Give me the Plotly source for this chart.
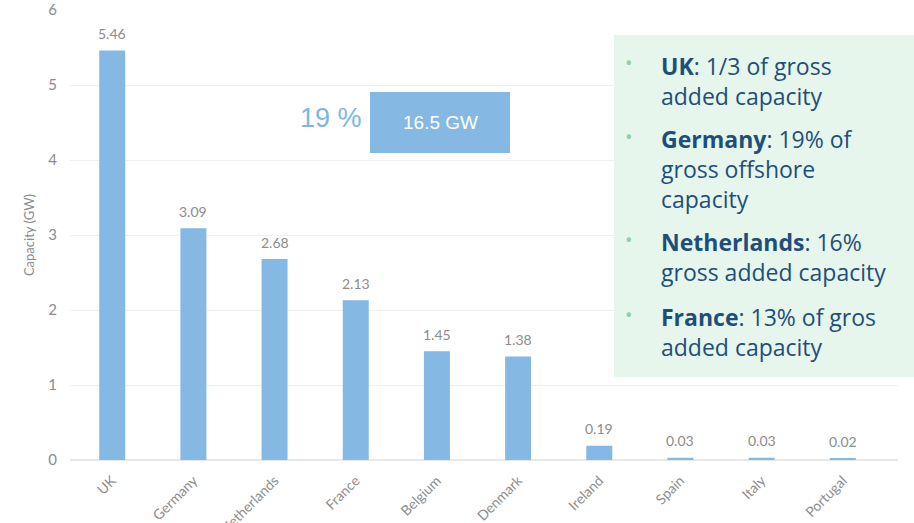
import plotly.graph_objects as go

countries = ["UK", "Germany", "Netherlands", "France", "Belgium", "Denmark",
             "Ireland", "Spain", "Italy", "Portugal"]
capacity_gw = [5.46, 3.09, 2.68, 2.13, 1.45, 1.38, 0.19, 0.03, 0.03, 0.02]
value_labels = ["5.46", "3.09", "2.68", "2.13", "1.45", "1.38", "0.19", "0.03", "0.03", "0.02"]
y_ticks = [0, 1, 2, 3, 4, 5, 6]

share_text = "19 %"
total_text = "16.5 GW"
notes = [
    ("UK", ": 1/3 of gross", True),
    ("", "added capacity", False),
    ("Germany", ": 19% of", True),
    ("", "gross offshore", False),
    ("", "capacity", False),
    ("Netherlands", ": 16%", True),
    ("", "gross added capacity", False),
    ("France", ": 13% of gros", True),
    ("", "added capacity", False),
]

W, H = 914, 523
ML, MR, MT, MB = 70, 16, 10, 63
PW = W - ML - MR
PH = H - MT - MB

def px(x):
    return (x - ML) / PW

def py(y):
    return (H - MB - y) / PH

BAR = "#85b9e3"
GREY = "#8c8c8c"
fig = go.Figure()
fig.add_trace(go.Bar(
    x=list(range(len(countries))), y=capacity_gw, width=0.32,
    marker=dict(color=BAR, line=dict(width=0)),
))

shapes = [
    dict(type="rect", xref="paper", yref="paper", x0=px(614), x1=px(916),
         y0=py(377), y1=py(35), fillcolor="#e6f6ec", line=dict(width=0), layer="above"),
    dict(type="rect", xref="paper", yref="paper", x0=px(370), x1=px(510),
         y0=py(153), y1=py(92), fillcolor=BAR, line=dict(width=0), layer="above"),
]

annotations = []
for i, (v, lab) in enumerate(zip(capacity_gw, value_labels)):
    annotations.append(dict(text=lab, x=i, y=v, xref="x", yref="y", showarrow=False,
                            xanchor="center", yanchor="middle", yshift=17,
                            font=dict(family="Lato", size=14, color=GREY)))
annotations += [
    dict(text=share_text, xref="paper", yref="paper", x=px(331), y=py(118),
         showarrow=False, xanchor="center", yanchor="middle",
         font=dict(family="Liberation Sans", size=27, color="#7fb6e0")),
    dict(text=total_text, xref="paper", yref="paper", x=px(440), y=py(123),
         showarrow=False, xanchor="center", yanchor="middle",
         font=dict(family="Liberation Sans", size=19, color="#ffffff")),
]
line_y = [66, 96, 139, 169, 199, 242, 272, 317, 347]
for (bold, rest, bullet), yy in zip(notes, line_y):
    txt = (f"<b>{bold}</b>" if bold else "") + rest
    annotations.append(dict(text=txt, xref="paper", yref="paper", x=px(659), y=py(yy),
                            showarrow=False, xanchor="left", yanchor="middle",
                            font=dict(family="Open Sans", size=23, color="#1f4e79")))
    if bullet:
        annotations.append(dict(text="•", xref="paper", yref="paper", x=px(629), y=py(yy - 3),
                                showarrow=False, xanchor="center", yanchor="middle",
                                font=dict(family="Open Sans", size=20, color="#8fd0a8")))

fig.update_layout(
    width=W, height=H, margin=dict(l=ML, r=MR, t=MT, b=MB, autoexpand=False),
    paper_bgcolor="white", plot_bgcolor="white", showlegend=False,
    bargap=0.68, shapes=shapes, annotations=annotations,
    xaxis=dict(range=[-0.52, 9.68], tickmode="array", tickvals=list(range(len(countries))),
               ticktext=countries, tickangle=-45, showgrid=False, zeroline=False,
               showline=False, ticks="outside", ticklen=6, tickcolor="rgba(0,0,0,0)",
               automargin=False,
               tickfont=dict(family="Lato", size=14, color=GREY)),
    yaxis=dict(range=[0, 6], tickvals=y_ticks, showgrid=True, gridcolor="#efefef",
               gridwidth=1, zeroline=True, zerolinecolor="#e8e8e8", showline=False,
               ticks="", ticklabelstandoff=12, automargin=False,
               tickfont=dict(family="Lato", size=15, color=GREY),
               title=dict(text="Capacity (GW)", standoff=10,
                          font=dict(family="Lato", size=13, color=GREY))),
)
fig.write_html("out.html")
